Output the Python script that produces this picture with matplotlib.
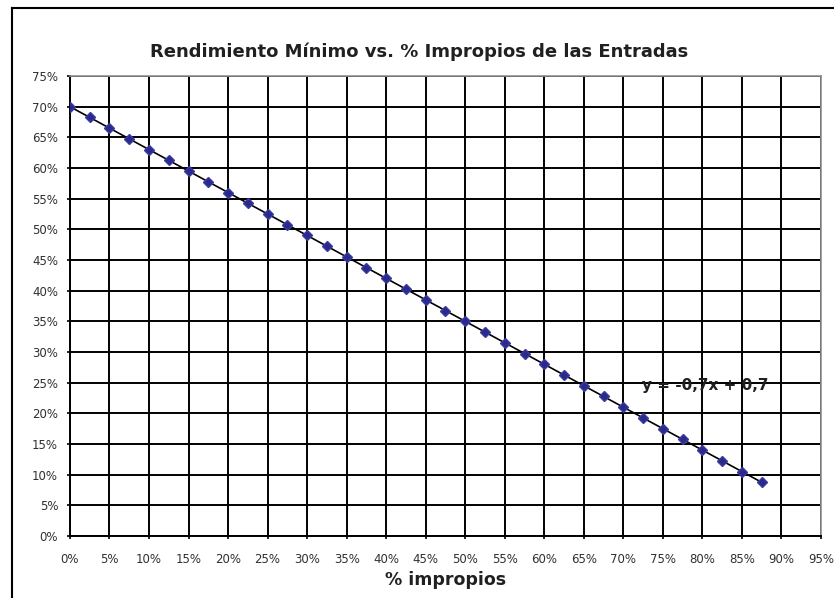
import matplotlib
matplotlib.use("Agg")
import matplotlib.pyplot as plt
from matplotlib.ticker import PercentFormatter, MultipleLocator
from matplotlib.lines import Line2D

plt.rcParams["font.family"] = ["DejaVu Sans"]

# % impropios (x) and rendimiento minimo (y)
impropios = [0.0, 2.5, 5.0, 7.5, 10.0, 12.5, 15.0, 17.5, 20.0, 22.5, 25.0, 27.5,
             30.0, 32.5, 35.0, 37.5, 40.0, 42.5, 45.0, 47.5, 50.0, 52.5, 55.0, 57.5,
             60.0, 62.5, 65.0, 67.5, 70.0, 72.5, 75.0, 77.5, 80.0, 82.5, 85.0, 87.5]
rendimiento = [70.0, 68.25, 66.5, 64.75, 63.0, 61.25, 59.5, 57.75, 56.0, 54.25,
               52.5, 50.75, 49.0, 47.25, 45.5, 43.75, 42.0, 40.25, 38.5, 36.75,
               35.0, 33.25, 31.5, 29.75, 28.0, 26.25, 24.5, 22.75, 21.0, 19.25,
               17.5, 15.75, 14.0, 12.25, 10.5, 8.75]

trend_slope = -0.7
trend_intercept = 0.7
trend_label = "y = -0,7x + 0,7"

fig = plt.figure(figsize=(8.34, 5.98), dpi=100)
ax = fig.add_axes([0.0839, 0.1037, 0.9005, 0.7692])

# trendline over the data range
x0, x1 = impropios[0], impropios[-1]
ax.plot([x0, x1],
        [100 * (trend_intercept + trend_slope * x0 / 100),
         100 * (trend_intercept + trend_slope * x1 / 100)],
        color="black", lw=1.2, zorder=3)
ax.plot(impropios, rendimiento, linestyle="none", marker="D", markersize=5,
        color="#2a2a8c", markeredgecolor="#3a3aa0", zorder=4)

ax.text(80.4, 24.6, trend_label, ha="center", va="center", fontsize=11,
        fontweight="bold", color="#202020", zorder=5)

ax.set_xlim(0, 95)
ax.set_ylim(0, 75)
ax.xaxis.set_major_locator(MultipleLocator(5))
ax.yaxis.set_major_locator(MultipleLocator(5))
ax.xaxis.set_major_formatter(PercentFormatter(decimals=0))
ax.yaxis.set_major_formatter(PercentFormatter(decimals=0))
ax.grid(True, color="black", lw=1.4)
ax.set_axisbelow(True)
ax.tick_params(direction="out", length=2.5, width=1.2, labelsize=8.5,
               labelcolor="#303030")
ax.tick_params(axis="y", pad=6)
ax.tick_params(axis="x", pad=10)

for side in ["left", "bottom"]:
    ax.spines[side].set_color("black")
    ax.spines[side].set_linewidth(1.4)
for side in ["top", "right"]:
    ax.spines[side].set_color("#909090")
    ax.spines[side].set_linewidth(1.2)

# title is centred on the chart area, not on the plot area
fig.text(419 / 834, 1 - 52 / 598, "Rendimiento Mínimo vs. % Impropios de las Entradas",
         ha="center", va="center", fontsize=13, fontweight="bold", color="#202020")
ax.set_xlabel("% impropios", fontsize=12.5, fontweight="bold", color="#202020",
              labelpad=3)

# outer chart border (cut off on the right and bottom)
fig.add_artist(Line2D([12 / 834, 12 / 834], [0, 1 - 8 / 598], color="black", lw=1.5))
fig.add_artist(Line2D([12 / 834, 1], [1 - 8 / 598, 1 - 8 / 598], color="black", lw=1.5))

fig.savefig("out.png", dpi=100)
plt.close(fig)
